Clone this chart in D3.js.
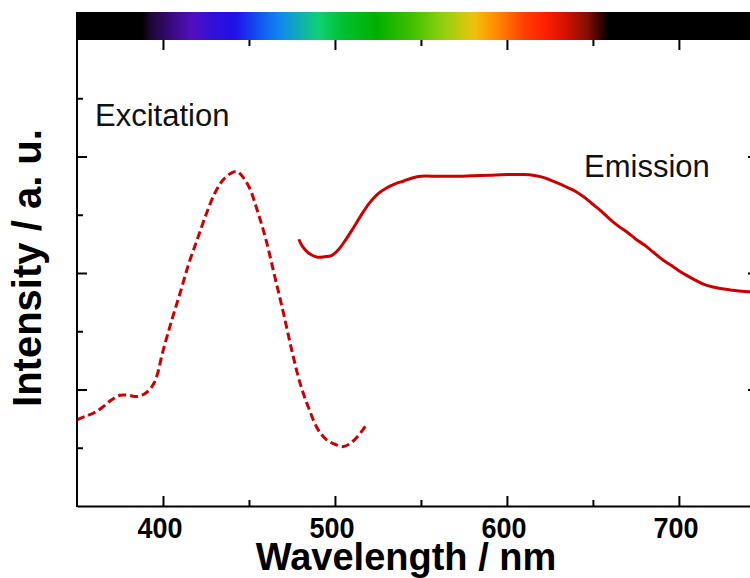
<!DOCTYPE html>
<html>
<head>
<meta charset="utf-8">
<script src="https://cdn.jsdelivr.net/npm/d3@7"></script>
<style>
  html, body { margin: 0; padding: 0; background: #fff; }
  svg { display: block; }
  text { font-family: "Liberation Sans", Arial, sans-serif; }
</style>
</head>
<body>
<svg id="chart" width="750" height="578"></svg>
<script>
// Excitation spectrum (dashed): wavelength (nm) and intensity (a.u.)
const excWavelength = [350, 355, 360, 365, 370, 375, 380, 385, 390, 395, 400, 405, 410, 415, 420, 425, 430, 435, 440, 443, 445, 450, 455, 460, 465, 470, 475, 480, 485, 490, 495, 500, 505, 510, 515, 518];
const excIntensity  = [0.74, 0.77, 0.80, 0.85, 0.91, 0.95, 0.95, 0.94, 0.97, 1.06, 1.33, 1.59, 1.83, 2.08, 2.29, 2.50, 2.68, 2.80, 2.86, 2.87, 2.85, 2.74, 2.53, 2.28, 1.97, 1.66, 1.33, 1.04, 0.83, 0.66, 0.57, 0.53, 0.51, 0.55, 0.63, 0.69];

// Emission spectrum (solid)
const emWavelength = [479, 481, 484, 487, 490, 494, 498, 502, 506, 510, 515, 520, 525, 530, 535, 540, 545, 550, 560, 570, 580, 590, 600, 610, 615, 620, 625, 630, 635, 640, 645, 650, 655, 660, 665, 670, 675, 680, 685, 690, 695, 700, 705, 710, 715, 720, 725, 730, 735, 740, 746];
const emIntensity  = [2.29, 2.23, 2.18, 2.15, 2.135, 2.14, 2.15, 2.20, 2.28, 2.37, 2.49, 2.60, 2.68, 2.73, 2.765, 2.79, 2.815, 2.83, 2.83, 2.83, 2.835, 2.84, 2.845, 2.845, 2.84, 2.825, 2.80, 2.77, 2.735, 2.70, 2.65, 2.59, 2.53, 2.46, 2.40, 2.35, 2.29, 2.24, 2.18, 2.12, 2.07, 2.02, 1.975, 1.935, 1.90, 1.88, 1.865, 1.855, 1.845, 1.84, 1.835];

// Visible-spectrum colour bar stops
const specWavelength = [350, 388, 392, 405, 417, 430, 442, 455, 468, 480, 491, 505, 524, 545, 563, 575, 581, 590, 596, 610, 622, 635, 647, 655, 659, 746];
const specColor = ["#000000", "#000000", "#1a0530", "#3a0a80", "#5010c0", "#3010d8", "#2010e8", "#1050f0", "#1088f0", "#10b0b0", "#10d070", "#00c030", "#00b000", "#40c000", "#90d010", "#d0c810", "#f0c010", "#ff9a00", "#ff8000", "#ff4000", "#ff2000", "#d01000", "#801000", "#300000", "#000000", "#000000"];

// Axis ticks
const xMajorTicks = [400, 500, 600, 700];
const xMinorTicks = [450, 550, 650];
const yMajorTicks = [1, 2, 3];
const yMinorTicks = [0.5, 1.5, 2.5, 3.5];

const xLabel = "Wavelength / nm";
const yLabel = "Intensity / a. u.";

const svg = d3.select("#chart");
const plotLeft = 77, plotRight = 758, plotTop = 40, plotBottom = 506, barTop = 12;

const x = d3.scaleLinear().domain([350, 746]).range([plotLeft, plotRight]);
const y = d3.scaleLinear().domain([0, 4]).range([plotBottom, plotTop]);

// Spectrum gradient bar
const defs = svg.append("defs");
const grad = defs.append("linearGradient")
  .attr("id", "spec").attr("gradientUnits", "userSpaceOnUse")
  .attr("x1", x(350)).attr("x2", x(746)).attr("y1", 0).attr("y2", 0);
const span = 746 - 350;
specWavelength.forEach((w, i) => {
  grad.append("stop").attr("offset", (w - 350) / span).attr("stop-color", specColor[i]);
});
svg.append("rect")
  .attr("x", plotLeft - 1).attr("y", barTop)
  .attr("width", plotRight - plotLeft + 2).attr("height", plotTop - barTop)
  .attr("fill", "url(#spec)");

defs.append("clipPath").attr("id", "plotClip")
  .append("rect").attr("x", plotLeft).attr("y", plotTop)
  .attr("width", plotRight - plotLeft).attr("height", plotBottom - plotTop);

// Curves
const line = d3.line().x(d => x(d[0])).y(d => y(d[1])).curve(d3.curveCatmullRom.alpha(0.5));
const plot = svg.append("g").attr("clip-path", "url(#plotClip)");

plot.append("path")
  .datum(excWavelength.map((w, i) => [w, excIntensity[i]]))
  .attr("d", line)
  .attr("fill", "none").attr("stroke", "#cc0000").attr("stroke-width", 3)
  .attr("stroke-dasharray", "8,4");

plot.append("path")
  .datum(emWavelength.map((w, i) => [w, emIntensity[i]]))
  .attr("d", line)
  .attr("fill", "none").attr("stroke", "#cc0000").attr("stroke-width", 3);

// Axes (ticks inward)
const axisStroke = g => g.selectAll("path, line").attr("stroke", "#000").attr("stroke-width", 2);

svg.append("g").attr("transform", `translate(0,${plotBottom})`)
  .call(d3.axisTop(x).tickValues(xMajorTicks).tickSize(10).tickSizeOuter(0).tickFormat(""))
  .call(axisStroke);
svg.append("g").attr("transform", `translate(0,${plotBottom})`)
  .call(d3.axisTop(x).tickValues(xMinorTicks).tickSize(6).tickSizeOuter(0).tickFormat(""))
  .call(g => g.select(".domain").remove()).call(axisStroke);

// Tick labels under the bottom axis
svg.append("g").selectAll("text").data(xMajorTicks).join("text")
  .attr("x", d => x(d) - 3).attr("y", 538)
  .attr("text-anchor", "middle").attr("font-size", 29).attr("font-weight", "bold")
  .attr("textLength", 45).attr("lengthAdjust", "spacingAndGlyphs")
  .attr("fill", "#000").text(d => d);

// Top ticks below the colour bar
svg.append("g").attr("transform", `translate(0,${plotTop})`)
  .call(d3.axisBottom(x).tickValues(xMajorTicks).tickSize(10).tickSizeOuter(0).tickFormat(""))
  .call(g => g.select(".domain").remove()).call(axisStroke);
svg.append("g").attr("transform", `translate(0,${plotTop})`)
  .call(d3.axisBottom(x).tickValues(xMinorTicks).tickSize(6).tickSizeOuter(0).tickFormat(""))
  .call(g => g.select(".domain").remove()).call(axisStroke);

// Left axis
svg.append("line").attr("x1", plotLeft).attr("x2", plotLeft).attr("y1", barTop).attr("y2", plotBottom + 1)
  .attr("stroke", "#000").attr("stroke-width", 2);
svg.append("g").attr("transform", `translate(${plotLeft},0)`)
  .call(d3.axisRight(y).tickValues(yMajorTicks).tickSize(10).tickSizeOuter(0).tickFormat(""))
  .call(g => g.select(".domain").remove()).call(axisStroke);
svg.append("g").attr("transform", `translate(${plotLeft},0)`)
  .call(d3.axisRight(y).tickValues(yMinorTicks).tickSize(6).tickSizeOuter(0).tickFormat(""))
  .call(g => g.select(".domain").remove()).call(axisStroke);

// Right axis
svg.append("g").attr("transform", `translate(${plotRight},0)`)
  .call(d3.axisLeft(y).tickValues(yMajorTicks).tickSize(10).tickSizeOuter(0).tickFormat(""))
  .call(axisStroke);
svg.append("g").attr("transform", `translate(${plotRight},0)`)
  .call(d3.axisLeft(y).tickValues(yMinorTicks).tickSize(6).tickSizeOuter(0).tickFormat(""))
  .call(g => g.select(".domain").remove()).call(axisStroke);

// Axis titles
svg.append("text")
  .attr("x", 406).attr("y", 570).attr("text-anchor", "middle")
  .attr("font-size", 38).attr("font-weight", "bold").attr("fill", "#000")
  .text(xLabel);
svg.append("text")
  .attr("transform", "translate(41,268) rotate(-90)").attr("text-anchor", "middle")
  .attr("font-size", 40).attr("font-weight", "bold").attr("fill", "#000")
  .text(yLabel);

// Curve annotations
svg.append("text").attr("x", 95).attr("y", 126)
  .attr("font-size", 31).attr("fill", "#111").text("Excitation");
svg.append("text").attr("x", 584).attr("y", 177)
  .attr("font-size", 31).attr("fill", "#111").text("Emission");
</script>
</body>
</html>
